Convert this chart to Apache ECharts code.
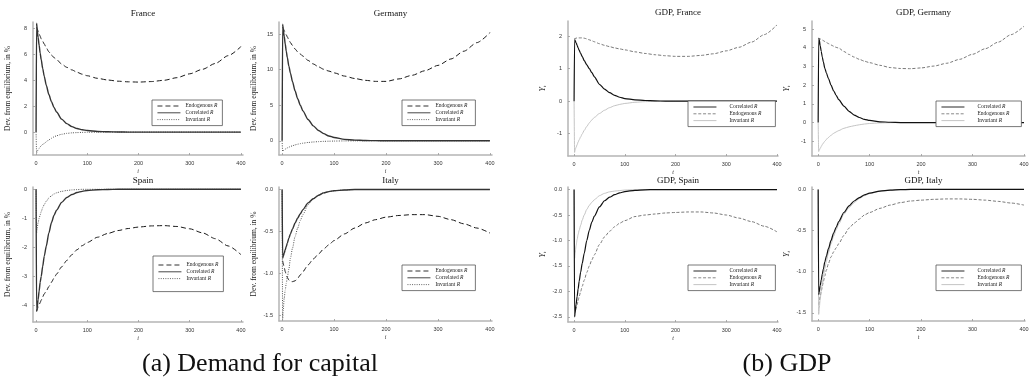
<!DOCTYPE html>
<html><head><meta charset="utf-8">
<script src="https://cdn.jsdelivr.net/npm/echarts@6/dist/echarts.min.js"></script>
<style>html,body{margin:0;padding:0;background:#fff}#c{width:1030px;height:381px}</style>
</head><body><div id="c"></div>
<script>
// time grid (periods)
const T = [0,1,2,4,6,8,10,13,16,20,25,30,35,40,50,60,70,80,90,100,120,140,160,180,200,225,250,275,300,325,350,375,400];

// (a) Demand for capital
const fraEndo = [null,8.1,8.0,7.8,7.6,7.4,7.2,7.0,6.8,6.5, 6.2,5.95,5.75,5.6,5.25,5.0,4.8,4.62,4.47,4.35, 4.15,4.02,3.93,3.88,3.86,3.9,4.0,4.2,4.5,4.85, 5.3,5.9,6.6];
const fraCorr = [0,8.4,8.0,7.3,6.7,6.1,5.6,4.9,4.3,3.6, 2.9,2.35,1.9,1.55,1.0,0.65,0.42,0.28,0.18,0.12, 0.05,0.02,0.01,0,0,0,0,0,0,0, 0,0,0];
const fraInv  = [0,-1.6,-1.5,-1.38,-1.25,-1.14,-1.05,-0.95,-0.88,-0.75, -0.6,-0.48,-0.37,-0.28,-0.17,-0.1,-0.06,-0.04,-0.025,-0.015, -0.005,0,0,0,0,0,0,0,0,0, 0,0,0];

const gerEndo = [null,16.0,15.8,15.5,15.2,14.9,14.6,14.2,13.8,13.4, 12.9,12.5,12.2,11.9,11.3,10.8,10.4,10.05,9.8,9.55, 9.1,8.75,8.5,8.35,8.35,8.7,9.2,9.85,10.6,11.5, 12.6,13.8,15.2];
const gerCorr = [0,16.4,15.8,14.7,13.6,12.6,11.7,10.5,9.5,8.3, 7.0,5.9,5.0,4.2,3.0,2.1,1.45,1.0,0.68,0.46, 0.2,0.09,0.04,0.015,0,0,0,0,0,0, 0,0,0];
const gerInv  = [0,-1.5,-1.4,-1.28,-1.18,-1.08,-1.0,-0.9,-0.8,-0.7, -0.58,-0.48,-0.4,-0.34,-0.24,-0.17,-0.12,-0.08,-0.06,-0.04, -0.02,-0.01,0,0,0,0,0,0,0,0, 0,0,0];

const spaEndo = [null,-4.2,-4.15,-4.05,-3.98,-3.9,-3.82,-3.7,-3.6,-3.5, -3.35,-3.2,-3.06,-2.92,-2.67,-2.45,-2.25,-2.08,-1.94,-1.83, -1.65,-1.52,-1.42,-1.35,-1.3,-1.26,-1.25,-1.28,-1.36,-1.5, -1.7,-1.95,-2.25];
const spaCorr = [0,-4.2,-4.1,-3.8,-3.5,-3.2,-3.0,-2.65,-2.3,-1.95, -1.5,-1.15,-0.9,-0.72,-0.45,-0.28,-0.18,-0.11,-0.07,-0.04, -0.015,-0.005,0,0,0,0,0,0,0,0, 0,0,0];
const spaInv  = [0,-1.5,-1.35,-1.15,-1.0,-0.88,-0.77,-0.63,-0.52,-0.41, -0.3,-0.22,-0.16,-0.12,-0.07,-0.04,-0.02,-0.01,0,0, 0,0,0,0,0,0,0,0,0,0, 0,0,0];

const itaEndo = [null,-0.85,-0.88,-0.93,-0.98,-1.02,-1.05,-1.08,-1.1,-1.1, -1.09,-1.06,-1.02,-0.98,-0.9,-0.83,-0.77,-0.71,-0.66,-0.61, -0.53,-0.46,-0.4,-0.36,-0.33,-0.31,-0.3,-0.3,-0.32,-0.36, -0.41,-0.46,-0.52];
const itaCorr = [0,-0.82,-0.8,-0.76,-0.72,-0.68,-0.64,-0.58,-0.53,-0.47, -0.4,-0.34,-0.29,-0.24,-0.16,-0.11,-0.07,-0.04,-0.025,-0.015, -0.005,0,0,0,0,0,0,0,0,0, 0,0,0];
const itaInv  = [0,-1.55,-1.45,-1.3,-1.2,-1.12,-1.05,-0.95,-0.82,-0.7, -0.56,-0.46,-0.37,-0.3,-0.18,-0.11,-0.065,-0.04,-0.025,-0.015, -0.005,0,0,0,0,0,0,0,0,0, 0,0,0];

// (b) GDP
const gfraCorr = [0,1.9,1.87,1.8,1.72,1.64,1.57,1.47,1.38,1.25, 1.12,1.0,0.88,0.75,0.52,0.37,0.26,0.18,0.12,0.08, 0.04,0.02,0.01,0,0,0,0,0,0,0, 0,0,0];
const gfraEndo = [1.92,1.93,1.93,1.94,1.95,1.95,1.95,1.95,1.95,1.94, 1.92,1.89,1.86,1.83,1.77,1.72,1.68,1.64,1.61,1.58, 1.52,1.47,1.43,1.4,1.38,1.38,1.41,1.46,1.55,1.66, 1.82,2.05,2.35];
const gfraInv  = [0,-1.58,-1.5,-1.42,-1.34,-1.26,-1.19,-1.1,-1.01,-0.9, -0.78,-0.67,-0.58,-0.5,-0.38,-0.28,-0.2,-0.14,-0.1,-0.07, -0.035,-0.015,-0.005,0,0,0,0,0,0,0, 0,0,0];

const ggerCorr = [0,4.5,4.45,4.1,3.8,3.5,3.25,2.9,2.65,2.35, 2.0,1.7,1.45,1.22,0.88,0.6,0.4,0.27,0.17,0.11, 0.04,0.015,0,0,0,0,0,0,0,0, 0,0,0];
const ggerEndo = [4.5,4.5,4.5,4.47,4.44,4.41,4.38,4.33,4.28,4.22, 4.15,4.08,4.02,3.98,3.8,3.64,3.5,3.38,3.28,3.2, 3.06,2.94,2.89,2.88,2.92,3.02,3.17,3.38,3.65,3.95, 4.3,4.7,5.15];
const ggerInv  = [0,-1.55,-1.48,-1.38,-1.28,-1.18,-1.1,-1.0,-0.9,-0.8, -0.68,-0.58,-0.5,-0.43,-0.31,-0.23,-0.17,-0.12,-0.08,-0.05, -0.02,-0.01,0,0,0,0,0,0,0,0, 0,0,0];

const gspaCorr = [0,-2.5,-2.42,-2.25,-2.1,-1.95,-1.8,-1.62,-1.45,-1.25, -1.0,-0.8,-0.64,-0.52,-0.34,-0.22,-0.15,-0.1,-0.065,-0.04, -0.015,-0.005,0,0,0,0,0,0,0,0, 0,0,0];
const gspaEndo = [null,-2.45,-2.42,-2.33,-2.26,-2.18,-2.1,-2.0,-1.9,-1.78, -1.63,-1.5,-1.38,-1.28,-1.08,-0.93,-0.82,-0.73,-0.66,-0.61, -0.53,-0.5,-0.48,-0.46,-0.45,-0.44,-0.44,-0.46,-0.5,-0.56, -0.63,-0.72,-0.83];
const gspaInv  = [0,-1.35,-1.25,-1.1,-0.98,-0.88,-0.8,-0.7,-0.6,-0.5, -0.39,-0.31,-0.25,-0.2,-0.12,-0.075,-0.045,-0.03,-0.02,-0.01, -0.003,0,0,0,0,0,0,0,0,0, 0,0,0];

const gitaCorr = [0,-1.28,-1.25,-1.17,-1.1,-1.03,-0.97,-0.88,-0.81,-0.72, -0.62,-0.53,-0.46,-0.39,-0.28,-0.2,-0.14,-0.1,-0.065,-0.045, -0.02,-0.008,-0.003,0,0,0,0,0,0,0, 0,0,0];
const gitaEndo = [null,-1.4,-1.37,-1.3,-1.24,-1.18,-1.12,-1.05,-0.98,-0.9, -0.82,-0.76,-0.71,-0.66,-0.56,-0.47,-0.41,-0.36,-0.31,-0.28, -0.23,-0.19,-0.16,-0.14,-0.13,-0.12,-0.115,-0.115,-0.12,-0.13, -0.145,-0.165,-0.19];
const gitaInv  = [0,-1.52,-1.45,-1.33,-1.23,-1.14,-1.06,-0.96,-0.87,-0.77, -0.66,-0.57,-0.49,-0.42,-0.3,-0.22,-0.16,-0.11,-0.075,-0.05, -0.02,-0.008,0,0,0,0,0,0,0,0, 0,0,0];

// tick labels
const xTicks = [0,100,200,300,400];
const yTicksFra = [0,2,4,6,8];
const yTicksGer = [0,5,10,15];
const yTicksSpa = [-4,-3,-2,-1,0];
const yTicksIta = [-1.5,-1.0,-0.5,0.0];
const yTicksGFra = [-1,0,1,2];
const yTicksGGer = [-1,0,1,2,3,4,5];
const yTicksGSpa = [-2.5,-2.0,-1.5,-1.0,-0.5,0.0];
const yTicksGIta = [-1.5,-1.0,-0.5,0.0];

const titles = ['France','Germany','GDP, France','GDP, Germany','Spain','Italy','GDP, Spain','GDP, Italy'];
const legendText = {dEndo:'Endogenous ', dCorr:'Correlated ', dInv:'Invariant ', gCorr:'Correlated ', gEndo:'Endogenous ', gInv:'Invariant '};

const panels = [
  {kind:'d', g:[33,22,210,133], x:[-6,404], y:[-1.77,8.5], yt:yTicksFra, dec:0, s:[fraEndo,fraCorr,fraInv], leg:[152,100], lp:[3,5,3,5]},
  {kind:'d', g:[279,22,213,133], x:[-6,404], y:[-2,16.7], yt:yTicksGer, dec:0, s:[gerEndo,gerCorr,gerInv], leg:[402,100], lp:[3,8,3,5]},
  {kind:'g', g:[568,21,210,135], x:[-12,402], y:[-1.69,2.47], yt:yTicksGFra, dec:0, s:[gfraCorr,gfraEndo,gfraInv], leg:[688,101], lp:[3,14,3,5]},
  {kind:'g', g:[812,21,213,135], x:[-12,402], y:[-1.79,5.43], yt:yTicksGGer, dec:0, s:[ggerCorr,ggerEndo,ggerInv], leg:[936,101], lp:[3,12,3,5]},
  {kind:'d', g:[33,187,210,135], x:[-6,404], y:[-4.57,0.08], yt:yTicksSpa, dec:0, s:[spaEndo,spaCorr,spaInv], leg:[153,256], lp:[6,5,10,5]},
  {kind:'d', g:[279,187,213,134], x:[-6,404], y:[-1.57,0.03], yt:yTicksIta, dec:1, s:[itaEndo,itaCorr,itaInv], leg:[402,265], lp:[3,8,3,5]},
  {kind:'g', g:[568,187,210,135], x:[-12,402], y:[-2.6,0.05], yt:yTicksGSpa, dec:1, s:[gspaCorr,gspaEndo,gspaInv], leg:[688,265], lp:[3,14,3,5]},
  {kind:'g', g:[812,187,213,134], x:[-12,402], y:[-1.6,0.03], yt:yTicksGIta, dec:1, s:[gitaCorr,gitaEndo,gitaInv], leg:[936,265], lp:[3,12,3,5]}
];

const styles = {
  dEndo:{color:'#1a1a1a', width:1, type:[5,3]},
  dCorr:{color:'#333', width:1.4, type:'solid'},
  dInv:{color:'#555', width:1, type:[1,1.3]},
  gCorr:{color:'#111', width:1.2, type:'solid'},
  gEndo:{color:'#7a7a7a', width:1, type:[3,1.8]},
  gInv:{color:'#bdbdbd', width:0.9, type:'solid'}
};
const order = {d:['dEndo','dCorr','dInv'], g:['gCorr','gEndo','gInv']};

const SERIF = 'Liberation Serif';
const option = {
  animation:false,
  backgroundColor:'#fff',
  title:[], grid:[], xAxis:[], yAxis:[], series:[], legend:[]
};

panels.forEach((p,i)=>{
  const [l,t,w,h] = p.g;
  option.grid.push({left:l, top:t, width:w, height:h, containLabel:false, outerBoundsMode:'none'});
  option.title.push({text:titles[i], left:l+w/2, top: i<4 ? t-18 : t-16, textAlign:'center',
    textStyle:{fontFamily:SERIF, fontSize:9, fontWeight:'normal', color:'#111'}});
  const axisLineStyle = {color:'#b5b5b5', width:1.5};
  option.xAxis.push({type:'value', gridIndex:i, min:p.x[0], max:p.x[1],
    name: p.kind==='d' ? 'i' : 't', nameLocation:'middle', nameGap:13,
    nameTextStyle:{fontFamily:SERIF, fontStyle:'italic', fontSize:6, color:'#333'},
    axisLine:{show:true, onZero:false, lineStyle:axisLineStyle},
    axisTick:{show:true, inside:true, length:2, customValues:xTicks, lineStyle:{color:'#999', width:0.8}},
    axisLabel:{customValues:xTicks, fontFamily:'Liberation Sans', fontSize:5.5, color:'#333', margin:5},
    splitLine:{show:false}});
  const yname = p.kind==='d' ? 'Dev. from equilibrium, in %' : '{y|Y}{s|t}';
  option.yAxis.push({type:'value', gridIndex:i, min:p.y[0], max:p.y[1],
    name:yname, nameLocation:'middle', nameGap:21, nameRotate:90,
    nameTextStyle:{fontFamily:SERIF, fontSize:7.5, color:'#222',
      rich:{y:{fontFamily:SERIF, fontStyle:'italic', fontSize:8, color:'#222'},
            s:{fontFamily:SERIF, fontStyle:'italic', fontSize:5, color:'#222', padding:[4,0,0,0]}}},
    axisLine:{show:true, onZero:false, lineStyle:axisLineStyle},
    axisTick:{show:true, inside:true, length:2, customValues:p.yt, lineStyle:{color:'#999', width:0.8}},
    axisLabel:{customValues:p.yt, fontFamily:'Liberation Sans', fontSize:5.5, color:'#333', margin:6,
      formatter:v=>Number(v).toFixed(p.dec)},
    splitLine:{show:false}});
  const names = order[p.kind];
  names.forEach((nm,k)=>{
    const arr = p.s[k];
    const st = styles[nm];
    option.series.push({type:'line', name:nm, xAxisIndex:i, yAxisIndex:i,
      data:T.map((tt,j)=>[tt, arr[j]]), showSymbol:false, symbol:'none',
      smooth:0.25, smoothMonotone:'x', connectNulls:false,
      lineStyle:{color:st.color, width:st.width, type:st.type}, itemStyle:{color:st.color},
      z: nm.endsWith('Corr') ? 3 : 2});
  });
  option.legend.push({orient:'vertical', left:p.leg[0], top:p.leg[1], data:names,
    padding:p.lp, itemWidth:23, itemHeight:6, itemGap:0.8, selectedMode:false,
    backgroundColor:'#fff', borderColor:'#555', borderWidth:0.8, borderRadius:0,
    itemStyle:{color:'rgba(0,0,0,0)', borderWidth:0, opacity:0},
    lineStyle:{width:0.9},
    formatter:n=>'{n|'+legendText[n]+'}{r|R}',
    textStyle:{padding: p.kind==='g' ? [0,0,0,8] : [0,0,0,0],
      rich:{n:{fontFamily:SERIF, fontSize:5.5, color:'#222'}, r:{fontFamily:SERIF, fontStyle:'italic', fontSize:5.5, color:'#222'}}}});
});

option.title.push({text:'(a) Demand for capital', left:255, top:346, textAlign:'center',
  textStyle:{fontFamily:SERIF, fontSize:26, fontWeight:'normal', color:'#111'}});
option.title.push({text:'(b) GDP', left:782, top:346, textAlign:'center',
  textStyle:{fontFamily:SERIF, fontSize:26, fontWeight:'normal', color:'#111'}});

const chart = echarts.init(document.getElementById('c'), null, {renderer:'canvas'});
chart.setOption(option);
</script></body></html>
